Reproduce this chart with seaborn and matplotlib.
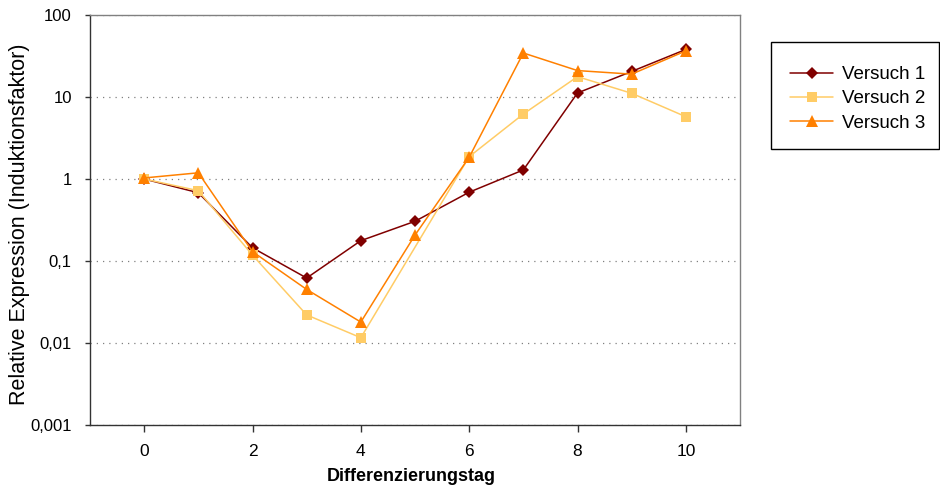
import matplotlib
matplotlib.use("Agg")
import matplotlib.pyplot as plt
from matplotlib.ticker import FixedLocator, NullLocator
from matplotlib.patches import Rectangle
import seaborn as sns
import pandas as pd

# Relative expression per differentiation day, three runs
days = [0, 1, 2, 3, 4, 5, 6, 7, 8, 9, 10]
versuch1 = [1.0, 0.68, 0.145, 0.062, 0.177, 0.305, 0.69, 1.29, 11.2, 20.5, 38.0]
days2 = [0, 1, 2, 3, 4, 6, 7, 8, 9, 10]
versuch2 = [1.0, 0.72, 0.118, 0.022, 0.0116, 1.87, 6.2, 17.7, 11.1, 5.75]
versuch3 = [1.03, 1.19, 0.13, 0.045, 0.018, 0.207, 1.84, 34.4, 21.0, 19.0, 36.5]

series_names = ["Versuch 1", "Versuch 2", "Versuch 3"]
y_ticks = [0.001, 0.01, 0.1, 1, 10, 100]
y_tick_labels = ["0,001", "0,01", "0,1", "1", "10", "100"]
x_ticks = [0, 2, 4, 6, 8, 10]

df = pd.concat([
    pd.DataFrame({"Tag": days, "Wert": versuch1, "Versuch": series_names[0]}),
    pd.DataFrame({"Tag": days2, "Wert": versuch2, "Versuch": series_names[1]}),
    pd.DataFrame({"Tag": days, "Wert": versuch3, "Versuch": series_names[2]}),
], ignore_index=True)

sns.set_style("white")
plt.rcParams["font.family"] = ["Liberation Sans", "DejaVu Sans"]
plt.rcParams["text.color"] = "black"
plt.rcParams["axes.labelcolor"] = "black"
plt.rcParams["xtick.color"] = "black"
plt.rcParams["ytick.color"] = "black"

palette = {"Versuch 1": "#800000", "Versuch 2": "#FFCC66", "Versuch 3": "#FF8000"}
markers = {"Versuch 1": "D", "Versuch 2": "s", "Versuch 3": "^"}

fig = plt.figure(figsize=(9.4, 4.88), dpi=100)
ax = fig.add_axes([90 / 940, 1 - 425 / 488, 650 / 940, 410 / 488])

sns.lineplot(data=df, x="Tag", y="Wert", hue="Versuch", style="Versuch",
             palette=palette, markers=markers, dashes=False, errorbar=None,
             linewidth=1.1, markersize=8, markeredgewidth=0, ax=ax)

# individual marker sizes
sizes = {"Versuch 1": 6.0, "Versuch 2": 7.2, "Versuch 3": 8.5}
handles, labels = ax.get_legend_handles_labels()
for line, name in zip(ax.lines, series_names):
    line.set_markersize(sizes[name])
for h, l in zip(handles, labels):
    if l in sizes:
        h.set_markersize(sizes[l])
ax.get_legend().remove()

ax.set_yscale("log")
ax.set_ylim(0.001, 100)
ax.set_xlim(-1, 11)
ax.yaxis.set_major_locator(FixedLocator(y_ticks))
ax.set_yticklabels(y_tick_labels)
ax.yaxis.set_minor_locator(NullLocator())
ax.set_xticks(x_ticks)
ax.set_xticklabels([str(t) for t in x_ticks])

ax.grid(axis="y", color="#808080", linestyle=(0, (1, 4)), linewidth=0.9)
ax.grid(axis="x", visible=False)

for side in ["left", "bottom"]:
    ax.spines[side].set_color("#333333")
    ax.spines[side].set_linewidth(1.0)
for side in ["top", "right"]:
    ax.spines[side].set_color("#808080")
    ax.spines[side].set_linewidth(1.0)

ax.tick_params(axis="y", which="major", direction="out", length=3.6,
               width=1, color="#333333", labelsize=12, pad=9.5, left=True)
ax.tick_params(axis="x", which="major", direction="out", length=5,
               width=1, color="#333333", labelsize=12.5, pad=9, bottom=True)

ax.set_ylabel("Relative Expression (Induktionsfaktor)", fontsize=15.5)
ax.yaxis.set_label_coords(-0.093, 0.49)
ax.set_xlabel("Differenzierungstag", fontsize=13, fontweight="bold")
ax.xaxis.set_label_coords(0.4946, -0.104)

# legend frame drawn as a plain box on the right
fig.patches.append(Rectangle((771 / 940, 1 - 149 / 488), 168 / 940, 107 / 488,
                             transform=fig.transFigure, fill=False,
                             edgecolor="#000000", linewidth=1.0))
leg = [h for h, l in zip(handles, labels) if l in series_names]
fig.legend(leg, series_names, loc="upper left",
           bbox_to_anchor=(790 / 940, 1 - 66 / 488), frameon=False,
           fontsize=13.5, handlelength=2.3, handletextpad=0.5,
           labelspacing=0.38, borderpad=0, borderaxespad=0)

fig.savefig("out.png", dpi=100)
